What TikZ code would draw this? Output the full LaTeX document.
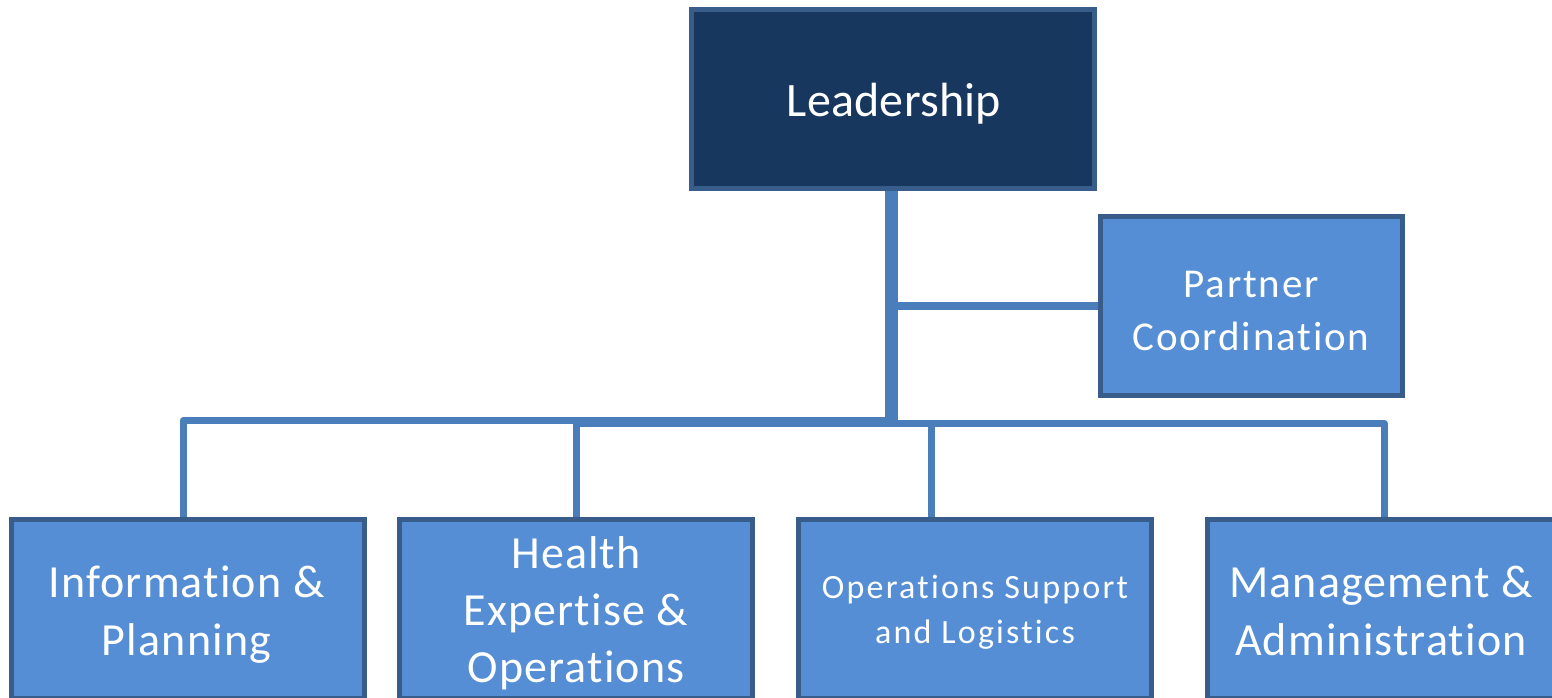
\documentclass[tikz,border=0pt]{standalone}
\usepackage{fontspec}
\setmainfont{Carlito}[Ligatures=NoCommon]
\definecolor{navy}{HTML}{17375E}
\definecolor{boxblue}{HTML}{558ED5}
\definecolor{edge}{HTML}{385D8A}
\definecolor{wire}{HTML}{4A7EBB}
\newcommand{\txtsize}[3]{\fontsize{#1}{#2}\selectfont\addfontfeatures{LetterSpace=#3}}
\begin{document}
\begin{tikzpicture}[x=1pt,y=-1pt,
  unit/.style={draw=edge, line width=5pt, fill=boxblue, rectangle,
    inner sep=0pt, outer sep=0pt, minimum width=353pt, minimum height=179pt},
  head/.style={unit, fill=navy, minimum width=403pt},
  caption/.style={text=white, align=center, anchor=base, inner sep=0pt},
  big/.style={font=\txtsize{46}{58}{2.5}},
  link/.style={draw=wire, line width=7pt, line join=round}]
\useasboundingbox (0,0) rectangle (1552,698);

% boxes
\node[head] (lead) at (893,99) {};
\node[unit, minimum width=302pt] (partner) at (1251.5,306) {};
\node[unit] (info) at (188,609) {};
\node[unit] (health) at (576,609) {};
\node[unit] (ops) at (974.5,609) {};
\node[unit] (mgmt) at (1384,609) {};

% elbow connectors from the leadership box
\coordinate (ja) at (894,420.5);
\coordinate (jb) at (888,423.5);
\draw[link] (lead.south -| ja) -- (ja) -| (info.north -| 183,0);
\draw[link] (lead.south -| jb) -- (jb) -| (health.north);
\draw[link] (jb) -| (ops.north -| 931,0);
\draw[link] (jb) -| (mgmt.north);
\draw[link, line width=8pt] (891,306) -- (partner.west);

% boxes redrawn above the connector ends
\node[head] at (lead) {};
\node[unit, minimum width=302pt] at (partner) {};
\node[unit] at (info) {};
\node[unit] at (health) {};
\node[unit] at (ops) {};
\node[unit] at (mgmt) {};

% texts
\node[caption, font=\txtsize{48}{58}{0.5}] (leadt) at (894,117) {Leadership};
\node[caption, font=\txtsize{41}{53}{4.5}] (partnert) at (1251,350) {Partner\\Coordination};
\node[caption, big] (infot) at (186.5,655) {Information \&\\Planning};
\node[caption, font=\txtsize{46}{57}{2.5}] (healtht) at (576,682) {Health\\Expertise \&\\Operations};
\node[caption, font=\txtsize{34}{45}{6.5}] (opst) at (975,643) {Operations Support\\and Logistics};
\node[caption, big] (mgmtt) at (1381,655) {Management \&\\Administration};
\end{tikzpicture}
\end{document}
